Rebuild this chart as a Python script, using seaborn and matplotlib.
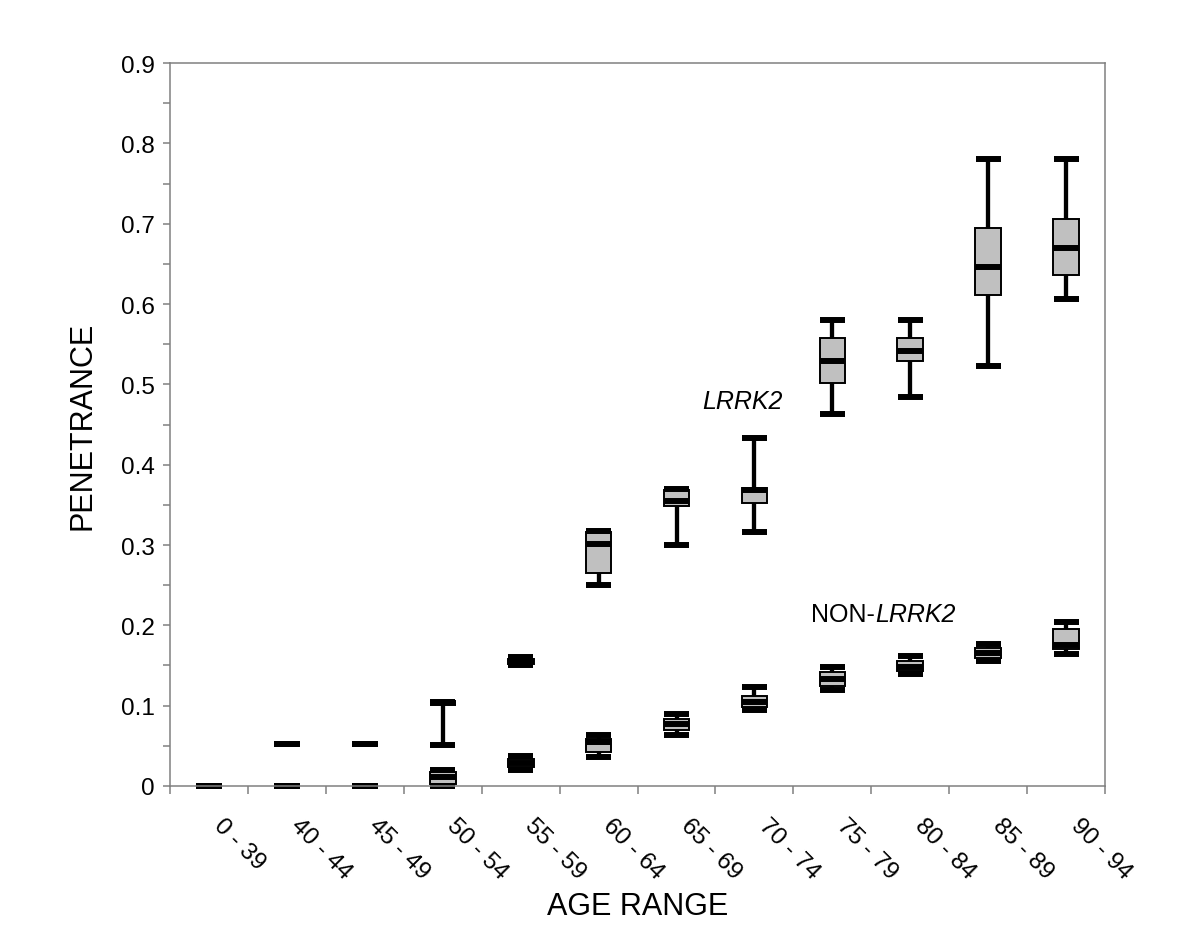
import numpy as np
import pandas as pd
import matplotlib
matplotlib.use("Agg")
import matplotlib.pyplot as plt
import seaborn as sns
from matplotlib.ticker import FuncFormatter

# age ranges (x categories)
ages = ['0 - 39', '40 - 44', '45 - 49', '50 - 54', '55 - 59', '60 - 64',
        '65 - 69', '70 - 74', '75 - 79', '80 - 84', '85 - 89', '90 - 94']

# LRRK2 carriers: whisker low, q1, median, q3, whisker high
lrrk2_lo = [0, 0.052, 0.052, 0.051, 0.150, 0.250, 0.300, 0.316, 0.463, 0.484, 0.523, 0.606]
lrrk2_q1 = [0, 0.052, 0.052, 0.103, 0.152, 0.265, 0.349, 0.352, 0.502, 0.529, 0.611, 0.636]
lrrk2_med = [0, 0.052, 0.052, 0.103, 0.155, 0.301, 0.355, 0.368, 0.529, 0.542, 0.646, 0.670]
lrrk2_q3 = [0, 0.052, 0.052, 0.103, 0.158, 0.316, 0.368, 0.371, 0.558, 0.558, 0.695, 0.706]
lrrk2_hi = [0, 0.052, 0.052, 0.104, 0.160, 0.317, 0.370, 0.433, 0.580, 0.580, 0.780, 0.780]

# non-carriers
non_lo = [0, 0, 0, 0.000, 0.020, 0.036, 0.063, 0.094, 0.119, 0.140, 0.155, 0.164]
non_q1 = [0, 0, 0, 0.003, 0.024, 0.042, 0.070, 0.098, 0.125, 0.143, 0.159, 0.170]
non_med = [0, 0, 0, 0.011, 0.029, 0.055, 0.077, 0.105, 0.133, 0.148, 0.166, 0.176]
non_q3 = [0, 0, 0, 0.018, 0.034, 0.058, 0.083, 0.112, 0.142, 0.155, 0.172, 0.195]
non_hi = [0, 0, 0, 0.020, 0.037, 0.063, 0.090, 0.123, 0.148, 0.162, 0.177, 0.204]

series = {
    'LRRK2': [lrrk2_lo, lrrk2_q1, lrrk2_med, lrrk2_q3, lrrk2_hi],
    'NON-LRRK2': [non_lo, non_q1, non_med, non_q3, non_hi],
}

# five points per box -> quartiles land exactly on q1/median/q3, whis=(0,100) gives min/max
rows = []
for grp, cols in series.items():
    for i, age in enumerate(ages):
        for c in cols:
            rows.append({'group': grp, 'age': age, 'pen': c[i]})
df = pd.DataFrame(rows)

sns.set_theme(style='ticks')
plt.rcParams['font.family'] = ['Liberation Sans', 'DejaVu Sans']
plt.rcParams['text.color'] = 'black'
plt.rcParams['axes.labelcolor'] = 'black'

fig = plt.figure(figsize=(12, 9.53), dpi=100)
ax = fig.add_axes([0.1417, 0.1742, 0.7792, 0.7586])

for grp in series:
    sns.boxplot(data=df[df['group'] == grp], x='age', y='pen', order=ages,
                whis=(0, 100), width=0.33, color='#c0c0c0', linecolor='black',
                saturation=1, showfliers=False, ax=ax,
                capwidths=0.32,
                boxprops=dict(linewidth=1.4, edgecolor='black', facecolor='#c0c0c0'),
                whiskerprops=dict(linewidth=3.1, color='black'),
                capprops=dict(linewidth=4.3, color='black', solid_capstyle='butt'),
                medianprops=dict(linewidth=4.3, color='black', solid_capstyle='butt'))

for art in ax.lines + ax.patches:
    art.set_clip_on(False)

ax.set_xlim(-0.5, len(ages) - 0.5)
ax.set_ylim(0, 0.9)
ax.set_yticks(np.arange(0, 0.91, 0.1))
ax.set_yticks(np.arange(0.05, 0.9, 0.1), minor=True)
ax.yaxis.set_major_formatter(FuncFormatter(lambda v, p: '0' if abs(v) < 1e-9 else f'{v:.1f}'))

ax.set_xticks(range(len(ages)))
ax.set_xticklabels(ages, rotation=-45, ha='left', rotation_mode='default')
ax.set_xticks(np.arange(-0.5, len(ages), 1), minor=True)

gray = '#808080'
for s in ax.spines.values():
    s.set_visible(True)
    s.set_color(gray)
    s.set_linewidth(1.1)

ax.tick_params(axis='y', which='both', length=5, width=1.1, color=gray,
               labelsize=17.5, pad=6, labelcolor='black')
ax.tick_params(axis='x', which='major', length=0, labelsize=17.5, pad=20, labelcolor='black')
ax.tick_params(axis='x', which='minor', length=6, width=1.1, color=gray)

ax.set_xlabel('AGE RANGE', fontsize=22, labelpad=6)
ax.set_ylabel('PENETRANCE', fontsize=22, labelpad=17)

ax.text(6.84, 0.471, 'LRRK2', fontsize=18, style='italic', ha='center', va='baseline')
t1 = ax.text(8.55, 0.2055, 'NON-', fontsize=18, ha='right', va='baseline')
ax.annotate('LRRK2', xy=(1, 0), xycoords=t1, fontsize=18, style='italic',
            ha='left', va='bottom')

fig.savefig('out.png', dpi=100, facecolor='white')
